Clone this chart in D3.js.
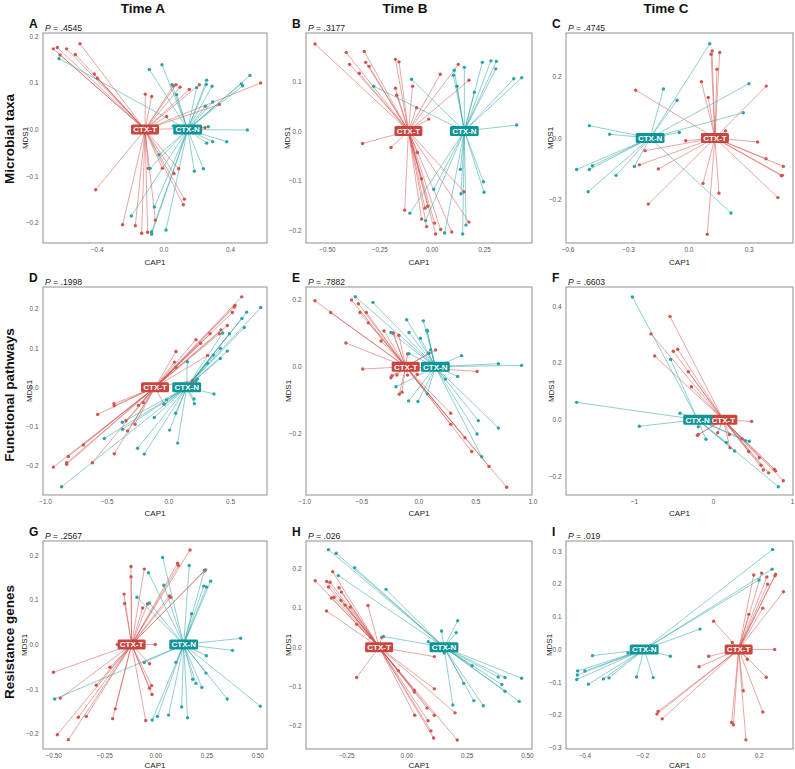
<!DOCTYPE html>
<html>
<head>
<meta charset="utf-8">
<script src="https://cdn.jsdelivr.net/npm/d3@7"></script>
<style>
  html, body { margin: 0; padding: 0; background: #fff; }
  svg { display: block; font-family: "Liberation Sans", Arial, Helvetica, sans-serif; }
</style>
</head>
<body>
<svg id="chart" width="795" height="769"></svg>
<script>
// ---------------- DATA ----------------
const columnTitles = ["Time A", "Time B", "Time C"];
const rowTitles = ["Microbial taxa", "Functional pathways", "Resistance genes"];
const panelLetters = ["A", "B", "C", "D", "E", "F", "G", "H", "I"];
const pValues = [".4545", ".3177", ".4745", ".1998", ".7882", ".6603", ".2567", ".026", ".019"];
const groups = ["CTX-T", "CTX-N"];

// centroid CAP1 of each group (MDS1 centroid = 0)
const centroidT = [-0.110, -0.111, 0.132, -0.108, -0.111, 0.131, -0.116, -0.113, 0.131];
const centroidN = [0.146, 0.156, -0.190, 0.149, 0.149, -0.194, 0.139, 0.156, -0.194];

// axis extents & ticks
const xDomains = [[-0.722, 0.622], [-0.600, 0.479], [-0.608, 0.520], [-1.016, 0.800], [-0.985, 0.997], [-1.861, 1.013], [-0.550, 0.547], [-0.416, 0.521], [-0.463, 0.318]];
const yDomains = [[-0.243, 0.207], [-0.225, 0.197], [-0.340, 0.340], [-0.274, 0.255], [-0.383, 0.238], [-0.265, 0.467], [-0.234, 0.232], [-0.259, 0.270], [-0.304, 0.331]];
const xTickValues = [[-0.4, 0, 0.4], [-0.5, -0.25, 0, 0.25], [-0.6, -0.3, 0, 0.3], [-1, -0.5, 0, 0.5], [-1, -0.5, 0, 0.5, 1], [-1, 0, 1], [-0.5, -0.25, 0, 0.25, 0.5], [-0.25, 0, 0.25, 0.5], [-0.4, -0.2, 0, 0.2]];
const yTickValues = [[-0.2, -0.1, 0, 0.1, 0.2], [-0.2, -0.1, 0, 0.1], [-0.2, 0, 0.2], [-0.2, -0.1, 0, 0.1, 0.2], [-0.2, 0, 0.2], [-0.2, 0, 0.2, 0.4], [-0.2, -0.1, 0, 0.1, 0.2], [-0.2, -0.1, 0, 0.1, 0.2], [-0.3, -0.2, -0.1, 0, 0.1, 0.2, 0.3]];
const xTickDecimals = [1, 2, 1, 1, 1, 0, 2, 2, 1];
const yTickDecimals = [1, 1, 1, 1, 1, 1, 1, 1, 1];

// samples [CAP1, MDS1]
const panelA_T = [[-0.66,0.173],[-0.636,0.176],[-0.58,0.173],[-0.50,0.184],[-0.62,0.16],[-0.528,0.161],[-0.414,0.119],[-0.396,0.11],[-0.108,0.076],[-0.07,0.071],[0.06,0.094],[0.076,0.096],[0.10,0.091],[0.156,0.086],[0.216,0.096],[0.584,0.10],[0.336,0.054],[0.02,0.028],[0.25,0.004],[-0.406,-0.129],[-0.244,-0.204],[-0.168,-0.206],[-0.13,-0.222],[-0.094,-0.22],[-0.048,-0.194],[-0.09,-0.083],[-0.006,-0.083],[0.064,-0.094],[0.092,-0.084],[0.126,-0.149],[0.12,-0.161]];
const panelA_N = [[-0.626,0.152],[-0.084,0.129],[-0.008,0.139],[0.052,0.096],[0.08,0.075],[0.20,0.09],[0.26,0.106],[0.258,0.097],[0.292,0.093],[0.252,0.05],[0.296,0.059],[0.468,0.098],[0.476,0.094],[0.52,0.116],[0.504,-0.001],[0.27,0.006],[0.06,0.008],[0.26,-0.029],[0.296,-0.026],[0.38,-0.026],[-0.026,-0.054],[-0.08,-0.083],[0.186,-0.089],[0.24,-0.084],[-0.054,-0.166],[-0.192,-0.185],[-0.07,-0.219],[-0.07,-0.224],[0.016,-0.215]];

const panelB_T = [[-0.557,0.175],[-0.408,0.158],[-0.392,0.134],[-0.322,0.16],[-0.315,0.138],[-0.299,0.13],[-0.346,0.116],[-0.173,0.144],[-0.156,0.139],[-0.173,0.086],[-0.167,0.072],[-0.072,0.047],[-0.091,0.09],[0.041,0.114],[0.127,0.134],[0.178,0.102],[-0.014,0.024],[-0.33,-0.025],[-0.194,-0.033],[-0.068,-0.043],[-0.049,-0.096],[-0.129,-0.159],[-0.019,-0.151],[-0.032,-0.155],[-0.048,-0.177],[-0.024,-0.192],[0.014,-0.185],[0.019,-0.207],[0.043,-0.198],[0.096,-0.203],[0.154,-0.122],[0.178,-0.183]];
const panelB_N = [[-0.277,0.09],[-0.096,0.104],[0.108,0.122],[0.104,0.112],[0.121,0.09],[0.156,0.128],[0.204,0.078],[0.242,0.138],[0.283,0.141],[0.309,0.14],[0.306,0.125],[0.392,0.105],[0.43,0.107],[0.406,0.012],[0.137,-0.077],[0.247,-0.102],[0.25,-0.123],[0.01,-0.117],[-0.104,-0.165],[-0.029,-0.18],[0.062,-0.205],[0.14,-0.126],[0.164,-0.189],[0.148,-0.207]];

const panelC_T = [[0.118,0.282],[0.113,0.271],[0.156,0.277],[0.142,0.223],[0.065,0.182],[0.099,0.131],[-0.262,0.155],[0.387,0.168],[0.185,0.023],[-0.013,-0.009],[-0.215,-0.041],[-0.243,-0.087],[-0.149,-0.10],[0.344,-0.013],[0.386,-0.067],[0.472,-0.092],[0.462,-0.122],[0.467,-0.121],[0.445,-0.193],[0.073,-0.147],[0.152,-0.179],[-0.199,-0.214],[0.094,-0.312]];
const panelC_N = [[0.106,0.305],[0.301,0.176],[0.273,0.082],[-0.124,0.159],[-0.056,0.122],[-0.045,0.018],[-0.492,0.04],[-0.391,0.012],[-0.555,-0.102],[-0.492,-0.102],[-0.477,-0.09],[-0.498,-0.174],[-0.359,-0.121],[-0.268,-0.092],[0.212,-0.243]];

const panelD_T = [[0.595,0.23],[0.541,0.208],[0.535,0.204],[0.519,0.19],[0.478,0.157],[0.427,0.146],[0.414,0.136],[0.338,0.136],[0.262,0.112],[0.224,0.121],[0.319,0.081],[0.062,0.091],[0.049,0.064],[0.062,0.051],[0.197,0.017],[-0.441,-0.042],[-0.438,-0.047],[-0.573,-0.069],[-0.243,-0.046],[-0.203,-0.039],[-0.343,-0.085],[-0.33,-0.111],[-0.27,-0.094],[-0.689,-0.147],[-0.438,-0.169],[-0.811,-0.176],[-0.824,-0.192],[-0.824,-0.196],[-0.932,-0.203],[-0.616,-0.192],[-0.035,-0.043]];
const panelD_N = [[0.749,0.203],[0.635,0.191],[0.597,0.175],[0.616,0.152],[0.495,0.136],[0.441,0.138],[0.422,0.099],[0.365,0.082],[0.478,0.092],[0.316,0.061],[0.422,0.073],[0.154,0.065],[0.235,0.021],[0.224,0.016],[0.37,-0.017],[0.208,-0.03],[0.211,-0.042],[-0.014,-0.032],[-0.032,-0.043],[0.059,-0.066],[-0.114,-0.077],[0.011,-0.109],[0.076,-0.142],[-0.373,-0.089],[-0.37,-0.107],[-0.519,-0.13],[-0.249,-0.155],[-0.195,-0.17],[-0.865,-0.253]];

const panelE_T = [[-0.906,0.197],[-0.769,0.162],[-0.635,0.071],[-0.585,0.199],[-0.526,0.188],[-0.512,0.162],[-0.456,0.162],[-0.439,0.131],[-0.301,0.107],[-0.327,0.077],[-0.225,0.101],[-0.17,0.094],[-0.219,0.10],[-0.094,0.038],[-0.488,-0.007],[-0.24,-0.033],[-0.231,-0.027],[-0.187,-0.025],[-0.094,-0.025],[-0.009,-0.023],[-0.167,-0.082],[-0.143,-0.076],[0.094,0.04],[0.152,0.05],[0.515,-0.014],[0.284,-0.139],[0.284,-0.172],[0.409,-0.212],[0.468,-0.253],[0.62,-0.298],[0.775,-0.36]];
const panelE_N = [[-0.553,0.209],[-0.398,0.192],[-0.102,0.14],[0.044,0.137],[0.076,0.109],[0.079,0.106],[-0.082,0.102],[0.018,0.085],[-0.24,0.102],[-0.082,0.039],[0.108,0.051],[0.088,0.04],[0.38,0.033],[0.702,0.009],[0.906,0.004],[0.345,-0.029],[0.237,-0.037],[-0.196,-0.06],[-0.085,-0.102],[-0.003,-0.104],[0.079,-0.081],[0.526,-0.161],[0.515,-0.201],[0.556,-0.269],[0.702,-0.183]];

const panelF_T = [[-0.544,0.363],[-0.785,0.302],[-0.738,0.224],[-0.502,0.241],[-0.447,0.248],[-0.312,0.169],[-0.274,0.116],[0.489,-0.006],[-0.198,-0.055],[-0.186,-0.052],[0.059,-0.046],[0.207,-0.052],[0.215,-0.099],[0.367,-0.067],[0.451,-0.112],[0.586,-0.134],[0.608,-0.16],[0.637,-0.177],[0.705,-0.187],[0.776,-0.174],[0.793,-0.18],[0.89,-0.215]];
const panelF_N = [[-1.021,0.432],[-1.726,0.061],[-0.932,-0.023],[-0.536,0.212],[-0.418,0.023],[-0.186,-0.025],[-0.089,-0.069],[0.169,-0.08],[0.274,-0.11],[0.409,-0.074],[0.46,-0.076],[0.827,-0.236]];

const panelG_T = [[0.17,0.212],[0.109,0.182],[0.113,0.177],[0.241,0.166],[0.246,0.167],[0.069,0.109],[0.075,0.106],[-0.119,0.175],[-0.119,0.152],[-0.054,0.169],[-0.153,0.113],[-0.15,0.092],[-0.062,0.082],[-0.038,0.091],[-0.186,0.0],[0.0,0.0],[-0.028,-0.043],[-0.499,-0.062],[-0.222,-0.051],[-0.289,-0.091],[-0.465,-0.12],[-0.018,-0.092],[-0.028,-0.098],[-0.016,-0.112],[-0.196,-0.144],[-0.209,-0.166],[-0.377,-0.163],[-0.338,-0.161],[-0.047,-0.17],[-0.48,-0.202],[-0.426,-0.213]];
const panelG_N = [[0.036,0.195],[-0.034,0.161],[0.166,0.177],[0.24,0.165],[0.271,0.142],[0.237,0.131],[0.251,0.129],[0.042,0.133],[-0.09,0.106],[-0.029,0.093],[0.178,0.069],[0.418,0.014],[0.378,-0.013],[0.25,-0.025],[0.101,-0.04],[-0.054,-0.04],[0.248,-0.064],[0.183,-0.078],[0.199,-0.087],[0.228,-0.096],[-0.493,-0.122],[0.352,-0.122],[0.514,-0.138],[0.129,-0.14],[0.158,-0.164],[0.065,-0.158],[0.01,-0.161],[-0.015,-0.169]];

const panelH_T = [[-0.378,0.169],[-0.305,0.192],[-0.33,0.167],[-0.316,0.165],[-0.323,0.153],[-0.279,0.151],[-0.269,0.14],[-0.30,0.127],[-0.311,0.125],[-0.271,0.119],[-0.254,0.107],[-0.232,0.102],[-0.331,0.092],[-0.159,0.106],[-0.206,0.058],[-0.148,0.025],[-0.102,0.025],[0.116,-0.024],[-0.206,-0.077],[-0.033,-0.06],[0.033,-0.11],[0.033,-0.114],[0.116,-0.106],[0.086,-0.155],[0.035,-0.173],[0.116,-0.173],[0.09,-0.187],[0.202,-0.167],[0.102,-0.213],[0.113,-0.231],[0.211,-0.236]];
const panelH_N = [[-0.323,0.248],[-0.291,0.239],[-0.214,0.202],[-0.282,0.182],[-0.084,0.147],[-0.095,0.027],[0.091,0.014],[0.146,0.041],[0.213,0.067],[0.207,0.037],[0.157,-0.015],[0.273,-0.047],[0.238,-0.092],[0.28,-0.136],[0.319,-0.149],[0.193,-0.147],[0.381,-0.076],[0.409,-0.077],[0.478,-0.079],[0.396,-0.095],[0.409,-0.112],[0.468,-0.138]];

const panelI_T = [[0.183,0.227],[0.21,0.233],[0.228,0.221],[0.231,0.199],[0.256,0.225],[0.258,0.23],[0.285,0.176],[0.214,0.126],[0.166,0.107],[0.045,0.086],[0.109,0.021],[0.255,0.0],[0.028,-0.021],[-0.005,-0.053],[0.161,-0.03],[0.226,-0.085],[0.147,-0.126],[0.214,-0.191],[0.107,-0.223],[0.113,-0.23],[0.156,-0.276],[-0.146,-0.189],[-0.15,-0.197],[-0.132,-0.212]];
const panelI_N = [[0.248,0.305],[0.246,0.245],[0.201,0.212],[-0.002,0.062],[-0.104,-0.021],[-0.163,-0.086],[-0.22,-0.084],[-0.25,-0.011],[-0.372,-0.019],[-0.423,-0.066],[-0.398,-0.066],[-0.424,-0.078],[-0.426,-0.092],[-0.386,-0.106],[-0.334,-0.09],[-0.315,-0.087]];

const samplesT = [panelA_T, panelB_T, panelC_T, panelD_T, panelE_T, panelF_T, panelG_T, panelH_T, panelI_T];
const samplesN = [panelA_N, panelB_N, panelC_N, panelD_N, panelE_N, panelF_N, panelG_N, panelH_N, panelI_N];

// ---------------- LAYOUT / STYLE ----------------
const colLeft = [43, 306, 566], colRight = [267, 532, 793];
const rowTop = [33, 287, 541], rowBottom = [243, 495, 749];
const capOffset = [21.5, 20.5, 18.5];
const titleX = [143, 405, 666];
const rowLabelY = [139, 395, 642];
const mdsX = [25, 287, 550, 29, 288, 551, 24, 288, 549];
const colorT = "#d2544e", colorN = "#2ba3a7";
const boxT = "#c8463f", boxN = "#0f9498";

const svg = d3.select("#chart");
const fmtMinus = s => s.replace("-", "\u2212");

columnTitles.forEach((t, i) => {
  svg.append("text").attr("x", titleX[i]).attr("y", 13)
    .attr("text-anchor", "middle").attr("font-size", 13.5).attr("font-weight", "bold")
    .attr("fill", "#111").text(t);
});
rowTitles.forEach((t, i) => {
  svg.append("text").attr("transform", `translate(14,${rowLabelY[i]}) rotate(-90)`)
    .attr("text-anchor", "middle").attr("font-size", 13.5).attr("font-weight", "bold")
    .attr("fill", "#111").text(t);
});

for (let p = 0; p < 9; p++) {
  const r = Math.floor(p / 3), c = p % 3;
  const L = colLeft[c], R = colRight[c], T = rowTop[r], B = rowBottom[r];
  const x = d3.scaleLinear().domain(xDomains[p]).range([L, R]);
  const y = d3.scaleLinear().domain(yDomains[p]).range([B, T]);
  const g = svg.append("g");

  g.append("rect").attr("x", L).attr("y", T).attr("width", R - L).attr("height", B - T)
    .attr("fill", "none").attr("stroke", "#8f8f8f").attr("stroke-width", 1);

  // axes
  const xf = d3.format("." + xTickDecimals[p] + "f");
  const yf = d3.format("." + yTickDecimals[p] + "f");
  const xAxis = d3.axisBottom(x).tickValues(xTickValues[p]).tickSize(0).tickPadding(4)
    .tickFormat(d => fmtMinus(xf(d)));
  const yAxis = d3.axisLeft(y).tickValues(yTickValues[p]).tickSize(0).tickPadding(4.5)
    .tickFormat(d => fmtMinus(yf(d)));
  const gx = g.append("g").attr("transform", `translate(0,${B})`).call(xAxis);
  const gy = g.append("g").attr("transform", `translate(${L},0)`).call(yAxis);
  [gx, gy].forEach(a => {
    a.select(".domain").remove();
    a.selectAll("text").attr("font-size", 6.4).attr("fill", "#555")
      .attr("font-family", "Liberation Sans, Arial, sans-serif");
  });

  g.append("text").attr("x", (L + R) / 2).attr("y", B + capOffset[r]).attr("text-anchor", "middle")
    .attr("font-size", 8).attr("fill", "#222").text("CAP1");
  g.append("text").attr("transform", `translate(${mdsX[p] + 3},${(T + B) / 2}) rotate(-90)`)
    .attr("text-anchor", "middle").attr("font-size", 8).attr("fill", "#222").text("MDS1");

  // panel tag and p-value
  g.append("text").attr("x", L - 14).attr("y", T - 5).attr("font-size", 12)
    .attr("font-weight", "bold").attr("fill", "#111").text(panelLetters[p]);
  const pt = g.append("text").attr("x", L + 2).attr("y", T - 2.5).attr("font-size", 8.6).attr("fill", "#222");
  pt.append("tspan").attr("font-style", "italic").text("P");
  pt.append("tspan").text(" = " + pValues[p]);

  const clip = "clip" + p;
  svg.append("clipPath").attr("id", clip).append("rect")
    .attr("x", L).attr("y", T).attr("width", R - L).attr("height", B - T);
  const plot = g.append("g").attr("clip-path", `url(#${clip})`);

  const sets = [
    { data: samplesT[p], cx: centroidT[p], col: colorT },
    { data: samplesN[p], cx: centroidN[p], col: colorN }
  ];
  sets.forEach(s => {
    plot.append("g").selectAll("line").data(s.data).join("line")
      .attr("x1", x(s.cx)).attr("y1", y(0))
      .attr("x2", d => x(d[0])).attr("y2", d => y(d[1]))
      .attr("stroke", s.col).attr("stroke-width", 0.8).attr("stroke-opacity", 0.65);
  });
  sets.forEach(s => {
    plot.append("g").selectAll("circle").data(s.data).join("circle")
      .attr("cx", d => x(d[0])).attr("cy", d => y(d[1])).attr("r", 1.7)
      .attr("fill", s.col);
  });

  // centroid labels
  const labs = [
    { name: groups[0], cx: centroidT[p], col: boxT },
    { name: groups[1], cx: centroidN[p], col: boxN }
  ];
  labs.forEach(l => {
    const lg = g.append("g").attr("transform", `translate(${x(l.cx)},${y(0)})`);
    const tx = lg.append("text").attr("text-anchor", "middle").attr("dy", "0.35em")
      .attr("font-size", 8).attr("font-weight", "bold").attr("fill", "#fff").text(l.name);
    const w = tx.node().getComputedTextLength();
    lg.insert("rect", "text").attr("x", -w / 2 - 2.2).attr("y", -5).attr("width", w + 4.4)
      .attr("height", 10).attr("rx", 1.5).attr("fill", l.col);
  });
}
</script>
</body>
</html>
